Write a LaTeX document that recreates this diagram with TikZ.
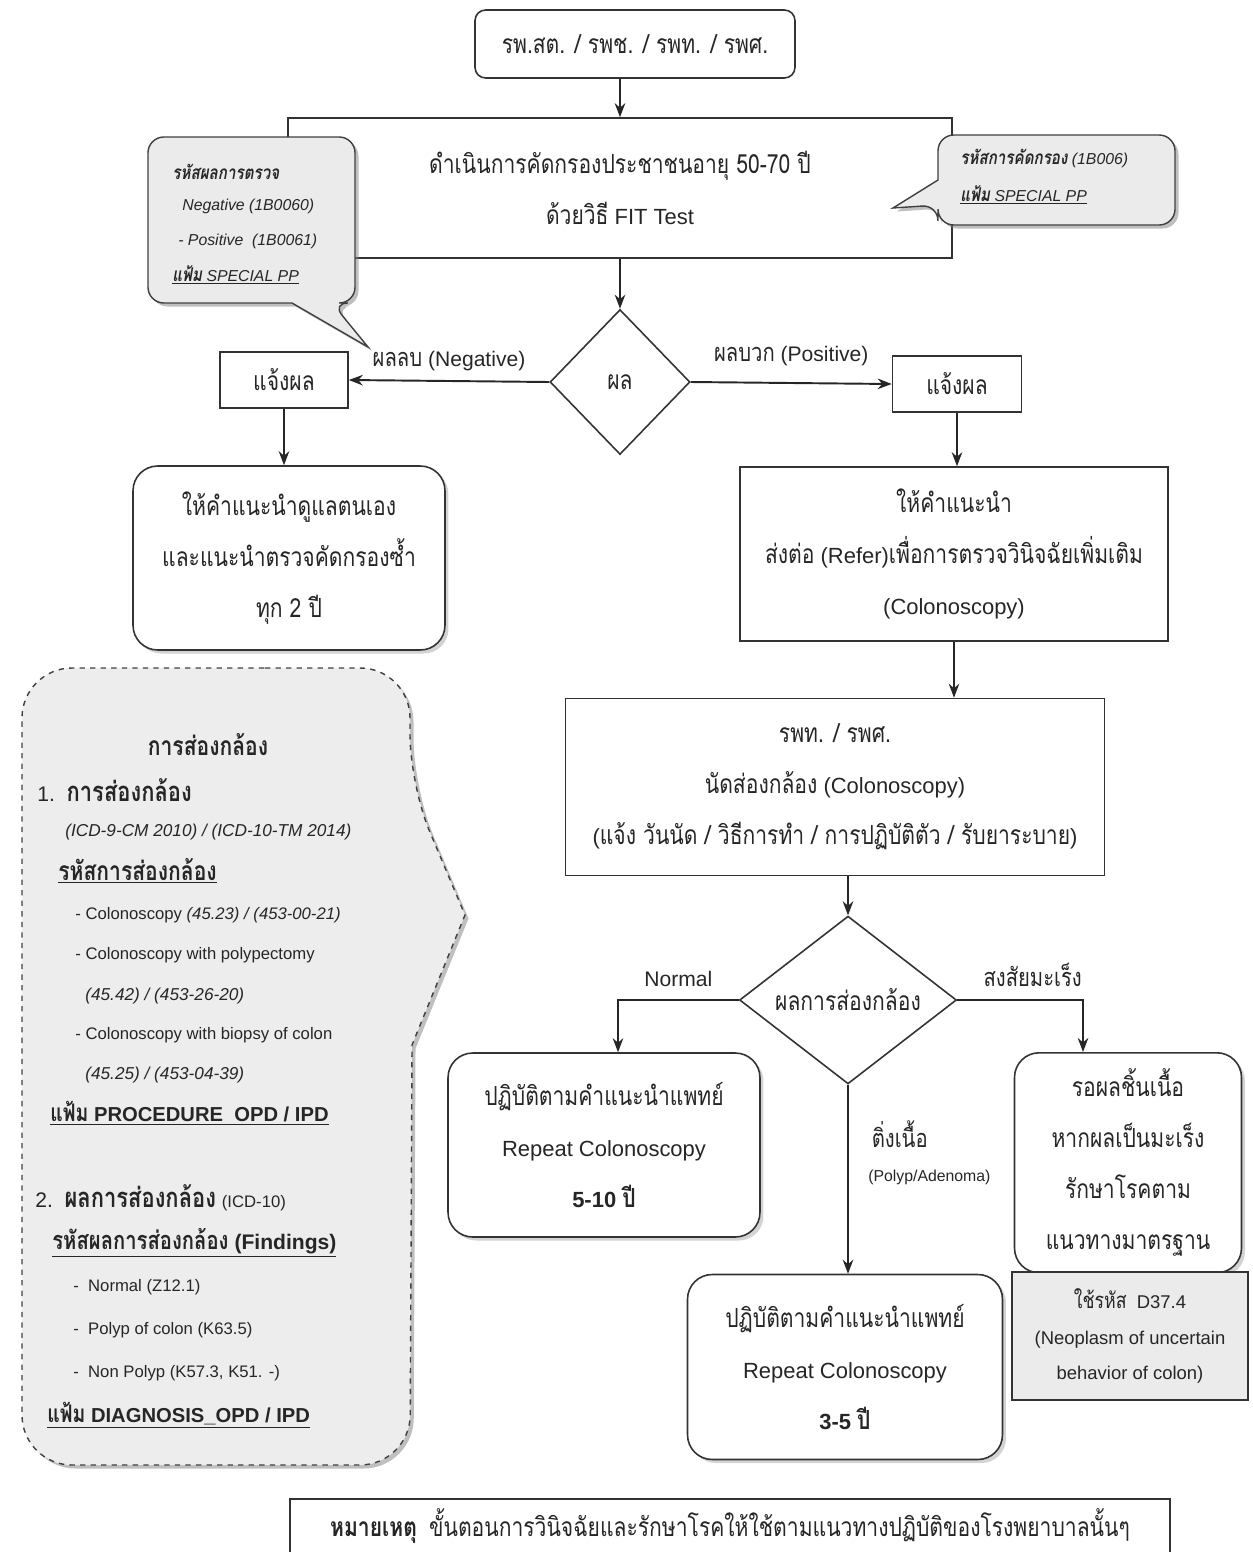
\documentclass[tikz,border=0pt]{standalone}
\usepackage{fontspec}
\setmainfont{Liberation Sans}
\newfontfamily\thaifont[Script=Thai, FakeStretch=0.8, Scale=1.2]{Loma}
\newcommand{\thtx}[1]{{\thaifont #1}}
\usetikzlibrary{shapes.geometric, arrows.meta, positioning, shadows}

\begin{document}
\begin{tikzpicture}[
  x=0.02cm, y=-0.02cm,
  every node/.style={font=\fontsize{12.5}{29}\selectfont, text=black!85},
  box/.style={rectangle, draw=black!80, line width=0.9pt, fill=white,
              align=center, inner sep=2pt},
  rbox/.style={box, rounded corners=14pt,
               drop shadow={shadow xshift=2pt, shadow yshift=-2pt, opacity=0.35}},
  dec/.style={diamond, draw=black!80, line width=0.9pt, fill=white,
              inner sep=0pt, aspect=1, align=center},
  arr/.style={-{Stealth[length=8pt, width=6pt]}, line width=1.1pt, black!85},
  lbl/.style={font=\fontsize{12}{14}\selectfont, inner sep=1pt},
  call/.style={draw=black!75, fill=black!8, line width=0.8pt,
               drop shadow={shadow xshift=2pt, shadow yshift=-2pt, opacity=0.5}},
  ctx/.style={anchor=west, inner sep=0pt, font=\fontsize{9}{11}\selectfont\itshape},
  cline/.style={anchor=west, inner sep=0pt, font=\fontsize{9.5}{11}\selectfont},
  chead/.style={anchor=west, inner sep=0pt, font=\fontsize{11.5}{13}\selectfont\bfseries},
]
\useasboundingbox (0,0) rectangle (1252,1552);

% ── Screening steps ─────────────────────────────────────────────────
\node[box, rounded corners=6pt, minimum width=6.4cm, minimum height=1.36cm]
  (top) at (635,44) {\thtx{รพ.สต. / รพช. / รพท. / รพศ.}};
\node[box, minimum width=13.28cm, minimum height=2.8cm] (screen) at (620,188)
  {\thtx{ดำเนินการคัดกรองประชาชนอายุ 50-70 ปี}\\\thtx{ด้วยวิธี} FIT Test};
\node[dec, minimum width=2.8cm, minimum height=2.9cm] (res) at (620,382) {\thtx{ผล}};
\node[box, minimum width=2.56cm, minimum height=1.12cm] (neg) at (284,380) {\thtx{แจ้งผล}};
\node[box, minimum width=2.58cm, minimum height=1.12cm] (pos) at (957,384) {\thtx{แจ้งผล}};
\node[rbox, minimum width=6.24cm, minimum height=3.68cm] (self) at (289,558)
  {\thtx{ให้คำแนะนำดูแลตนเอง}\\\thtx{และแนะนำตรวจคัดกรองซ้ำ}\\\thtx{ทุก 2 ปี}};
\node[box, minimum width=8.56cm, minimum height=3.48cm] (refer) at (954,554)
  {\thtx{ให้คำแนะนำ}\\\thtx{ส่งต่อ} (Refer)\thtx{เพื่อการตรวจวินิจฉัยเพิ่มเติม}\\(Colonoscopy)};
\node[box, minimum width=10.78cm, minimum height=3.54cm] (appt) at (835,787)
  {\thtx{รพท. / รพศ.}\\\thtx{นัดส่องกล้อง} (Colonoscopy)\\
   (\thtx{แจ้ง วันนัด / วิธีการทำ / การปฏิบัติตัว / รับยาระบาย})};

% ── Colonoscopy result ──────────────────────────────────────────────
\node[dec, minimum width=4.34cm, minimum height=3.16cm] (scope) at (848,1000)
  {\thtx{ผลการส่องกล้อง}};
\node[rbox, minimum width=6.24cm, minimum height=3.68cm] (rep10) at (604,1145)
  {\thtx{ปฏิบัติตามคำแนะนำแพทย์}\\Repeat Colonoscopy\\\textbf{5-10 \thtx{ปี}}};
\node[rbox, minimum width=6.3cm, minimum height=3.7cm] (rep3) at (845,1367)
  {\thtx{ปฏิบัติตามคำแนะนำแพทย์}\\Repeat Colonoscopy\\\textbf{3-5 \thtx{ปี}}};
\node[rbox, minimum width=4.54cm, minimum height=4.4cm, anchor=north] (wait) at (1128,1052)
  {\thtx{รอผลชิ้นเนื้อ}\\\thtx{หากผลเป็นมะเร็ง}\\\thtx{รักษาโรคตาม}\\\thtx{แนวทางมาตรฐาน}};
\node[box, fill=black!8, minimum width=4.72cm, minimum height=2.56cm,
      font=\fontsize{10.5}{20}\selectfont] (code) at (1130,1336)
  {\thtx{ใช้รหัส}\ \ D37.4\\(Neoplasm of uncertain\\behavior of colon)};

% ── Arrows ──────────────────────────────────────────────────────────
\draw[arr] (top.south -| res.north) -- (screen.north);
\draw[arr] (screen.south -| res.north) -- (res.north);
\draw[arr] (res.west) -- (neg.east)
  node[lbl, midway, above=4pt] {\thtx{ผลลบ} (Negative)};
\draw[arr] (res.east) -- (pos.west)
  node[lbl, midway, above=8pt] {\thtx{ผลบวก} (Positive)};
\draw[arr] (neg.south) -- (neg.south |- self.north);
\draw[arr] (pos.south) -- (pos.south |- refer.north);
\draw[arr] (refer.south) -- (refer.south |- appt.north);
\draw[arr] (scope.north |- appt.south) -- (scope.north);
\draw[arr] (scope.west) -| ([xshift=0.28cm]rep10.north)
  node[lbl, pos=0.25, above=6pt] {Normal};
\draw[arr] (scope.east) -| ([xshift=-0.9cm]wait.north)
  node[lbl, pos=0.3, above=6pt] {\thtx{สงสัยมะเร็ง}};
\draw[arr] (scope.south) -- (scope.south |- rep3.north)
  node[lbl, pos=0.26, right=12pt] {\thtx{ติ่งเนื้อ}}
  node[lbl, pos=0.49, right=10pt, font=\fontsize{9}{10}\selectfont] {(Polyp/Adenoma)};

% ── Code callouts ───────────────────────────────────────────────────
\draw[call, rounded corners=9pt] (250,137) -- (355,137) -- (355,303) -- (332,303)
  [sharp corners] -- (368,347) -- (292,303) [rounded corners=9pt] -- (148,303)
  -- (148,137) -- cycle;
\node[ctx, font=\fontsize{9}{10}\selectfont\bfseries\itshape] (cres) at (172,172) {\thtx{รหัสผลการตรวจ}};
\node[ctx] (cneg) at (182,206) {Negative (1B0060)};
\node[ctx] (cpos) at (178,241) {- Positive\ \ (1B0061)};
\node[ctx] (cfile) at (172,275) {\underline{\textbf{\thtx{แฟ้ม}} SPECIAL PP}};

\draw[call, rounded corners=9pt] (1050,135) -- (1175,135) -- (1175,225) -- (938,225)
  -- (938,205) [sharp corners] -- (893,208) -- (938,180) [rounded corners=9pt]
  -- (938,135) -- cycle;
\node[ctx] (cscr) at (960,158) {\textbf{\thtx{รหัสการคัดกรอง}} (1B006)};
\node[ctx] (cfile2) at (960,195) {\underline{\textbf{\thtx{แฟ้ม}} SPECIAL PP}};

% ── Colonoscopy code box ────────────────────────────────────────────
\draw[call, dashed, fill=black!7, rounded corners=1cm] (215,668) -- (410,668)
  -- (410,785) [sharp corners] -- (465,915) -- (412,1045) [rounded corners=1cm]
  -- (410,1465) -- (22,1465) -- (22,668) -- cycle;
\node[font=\fontsize{12.5}{14}\selectfont\bfseries] (ctitle) at (208,745) {\thtx{การส่องกล้อง}};
\node[cline, font=\fontsize{12}{14}\selectfont] (c1) at (37,790)
  {1.\ \ \textbf{\fontsize{13}{14}\selectfont\thtx{การส่องกล้อง}}};
\node[ctx, font=\fontsize{9.8}{11}\selectfont\itshape] (c2) at (65,832) {(ICD-9-CM 2010) / (ICD-10-TM 2014)};
\node[chead, font=\fontsize{12.5}{14}\selectfont\bfseries] (c3) at (58,871) {\underline{\thtx{รหัสการส่องกล้อง}}};
\node[cline] (c4) at (75,915) {- Colonoscopy \textit{(45.23) / (453-00-21)}};
\node[cline] (c5) at (75,955) {- Colonoscopy with polypectomy};
\node[ctx, font=\fontsize{9.8}{11}\selectfont\itshape] (c6) at (85,996) {(45.42) / (453-26-20)};
\node[cline] (c7) at (75,1035) {- Colonoscopy with biopsy of colon};
\node[ctx, font=\fontsize{9.8}{11}\selectfont\itshape] (c8) at (85,1075) {(45.25) / (453-04-39)};
\node[chead] (c9) at (50,1113) {\underline{\thtx{แฟ้ม} PROCEDURE\ \ OPD / IPD}};
\node[cline, font=\fontsize{12}{14}\selectfont] (c10) at (35,1198)
  {2.\ \ \textbf{\fontsize{13}{14}\selectfont\thtx{ผลการส่องกล้อง}} {\fontsize{9.5}{11}\selectfont(ICD-10)}};
\node[chead, font=\fontsize{12}{14}\selectfont\bfseries] (c11) at (52,1243) {\underline{\thtx{รหัสผลการส่องกล้อง} (Findings)}};
\node[cline] (c12) at (73,1287) {-\ \ Normal (Z12.1)};
\node[cline] (c13) at (73,1330) {-\ \ Polyp of colon (K63.5)};
\node[cline] (c14) at (73,1373) {-\ \ Non Polyp (K57.3, K51. -)};
\node[chead] (c15) at (47,1415) {\underline{\thtx{แฟ้ม} DIAGNOSIS\_OPD / IPD}};

% ── Note ────────────────────────────────────────────────────────────
\node[box, minimum width=17.6cm, minimum height=1.08cm] (note) at (730,1526)
  {\textbf{\thtx{หมายเหตุ}}\ \ \thtx{ขั้นตอนการวินิจฉัยและรักษาโรคให้ใช้ตามแนวทางปฏิบัติของโรงพยาบาลนั้นๆ}};

\end{tikzpicture}
\end{document}
